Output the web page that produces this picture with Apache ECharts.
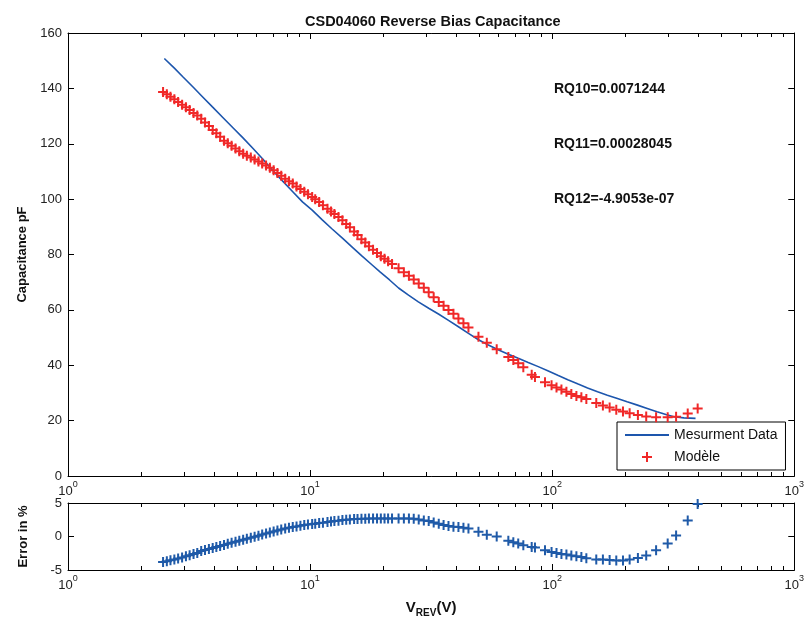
<!DOCTYPE html>
<html>
<head>
<meta charset="utf-8">
<title>CSD04060 Reverse Bias Capacitance</title>
<script src="https://cdn.jsdelivr.net/npm/echarts@6/dist/echarts.min.js"></script>
<style>
  html, body { margin: 0; background: #fff; }
  #main { width: 807px; height: 623px; }
</style>
</head>
<body>
<div id="main"></div>
<script>
// measured curve (blue line)
var vMeas = [2.5, 2.75, 2.98, 3.3, 3.6, 3.95, 4.36, 4.8, 5.27, 5.8, 6.36, 7.0, 7.69, 8.5, 9.3, 10.2, 11.2, 12.3, 13.6, 15.0, 16.4, 18.0, 19.5, 21.3, 23.2, 25.5, 28.0, 30.9, 33.9, 37.3, 41.0, 45.1, 49.6, 54.5, 59.8, 65.9, 72.4, 79.6, 87.6, 96.4, 106, 116, 128, 140, 154, 169, 186, 204, 225, 247, 271, 295, 318, 350, 391];
var cMeas = [150.8, 147.3, 144.2, 140.3, 136.9, 133.3, 129.5, 125.8, 122.2, 118.4, 114.6, 110.4, 106.6, 102.6, 99.0, 96.0, 92.6, 89.3, 85.9, 82.5, 79.4, 76.3, 73.6, 70.8, 67.9, 65.3, 62.9, 60.6, 58.5, 56.2, 53.9, 51.5, 49.2, 47.3, 45.6, 44.0, 42.5, 41.0, 39.5, 37.9, 36.3, 34.8, 33.2, 31.8, 30.4, 29.2, 28.0, 26.8, 25.6, 24.4, 23.2, 22.2, 21.4, 21.0, 20.8];

// model points (red +) and relative error (blue +), same voltages
var vModel = [2.47, 2.56, 2.65, 2.75, 2.85, 2.96, 3.07, 3.18, 3.3, 3.42, 3.55, 3.68, 3.82, 3.96, 4.1, 4.25, 4.41, 4.57, 4.74, 4.92, 5.1, 5.29, 5.48, 5.69, 5.9, 6.12, 6.34, 6.58, 6.82, 7.07, 7.33, 7.6, 7.89, 8.18, 8.48, 8.79, 9.12, 9.46, 9.8, 10.2, 10.5, 10.9, 11.3, 11.8, 12.2, 12.6, 13.1, 13.6, 14.1, 14.6, 15.2, 15.7, 16.3, 16.9, 17.5, 18.2, 18.9, 19.6, 20.3, 21.0, 21.8, 23.2, 24.4, 25.6, 26.8, 28.1, 29.5, 30.9, 32.4, 34.0, 35.6, 37.3, 39.1, 41.0, 43.0, 45.1, 49.6, 53.7, 59.0, 65.9, 69.1, 72.4, 76.0, 82.3, 84.9, 93.4, 99.4, 104.2, 109.2, 114.5, 120.0, 125.9, 132.0, 138.4, 152.1, 162.0, 172.7, 184.0, 196.1, 208.9, 226.0, 244.6, 268.7, 300, 325, 363, 399];
var cModel = [138.7, 137.9, 137.0, 136.1, 135.1, 134.1, 133.2, 132.2, 131.1, 130.2, 129.0, 127.7, 126.4, 125.0, 123.8, 122.5, 121.1, 120.2, 119.3, 118.3, 117.3, 116.4, 115.7, 115.0, 114.3, 113.6, 112.9, 112.1, 111.3, 110.4, 109.4, 108.4, 107.4, 106.5, 105.6, 104.6, 103.7, 102.7, 101.8, 100.8, 100.0, 99.0, 97.8, 96.5, 95.5, 94.6, 93.5, 92.4, 91.0, 89.8, 88.3, 87.0, 85.5, 84.3, 83.0, 81.7, 80.5, 79.4, 78.5, 77.6, 76.6, 75.0, 73.6, 72.3, 71.0, 69.5, 68.0, 66.4, 64.6, 62.8, 61.5, 60.0, 58.6, 56.9, 55.2, 53.6, 50.3, 48.1, 45.8, 43.0, 41.9, 40.7, 39.3, 36.6, 35.8, 33.9, 32.8, 32.0, 31.2, 30.4, 29.6, 28.9, 28.4, 27.8, 26.4, 25.5, 24.7, 23.9, 23.3, 22.7, 22.0, 21.5, 21.2, 21.2, 21.4, 22.6, 24.4];
var errPct = [-3.80, -3.70, -3.55, -3.45, -3.30, -3.15, -2.95, -2.80, -2.60, -2.45, -2.15, -2.00, -1.85, -1.70, -1.55, -1.40, -1.25, -1.10, -0.95, -0.80, -0.65, -0.50, -0.35, -0.20, -0.05, 0.10, 0.30, 0.45, 0.60, 0.75, 0.90, 1.05, 1.20, 1.30, 1.40, 1.50, 1.60, 1.70, 1.80, 1.85, 1.90, 2.00, 2.05, 2.15, 2.25, 2.30, 2.35, 2.45, 2.50, 2.55, 2.60, 2.60, 2.65, 2.65, 2.70, 2.70, 2.70, 2.70, 2.70, 2.70, 2.70, 2.70, 2.70, 2.70, 2.65, 2.55, 2.40, 2.30, 2.10, 1.90, 1.70, 1.55, 1.45, 1.40, 1.30, 1.20, 0.70, 0.25, 0.00, -0.65, -0.85, -1.05, -1.30, -1.55, -1.65, -2.05, -2.30, -2.45, -2.60, -2.70, -2.85, -2.95, -3.05, -3.25, -3.45, -3.45, -3.50, -3.60, -3.60, -3.45, -3.20, -2.85, -2.05, -1.05, 0.15, 2.40, 4.85];

var minorTicks = [2, 3, 4, 5, 6, 7, 8, 9, 20, 30, 40, 50, 60, 70, 80, 90, 200, 300, 400, 500, 600, 700, 800, 900];
var coefLabels = ['RQ10=0.0071244', 'RQ11=0.00028045', 'RQ12=-4.9053e-07'];

var FONT = 'Liberation Sans, Arial, sans-serif';
var plusPath = 'path://M4,0H6V4H10V6H6V10H4V6H0V4H4Z';
var linePath = 'path://M0,0H44V1.8H0Z';

function pairs(xs, ys) {
  return xs.map(function (x, i) { return [x, ys[i]]; });
}

function logLabel(v) {
  var e = Math.round(Math.log10(v));
  return '{b|10}{e|' + e + '}';
}

var logRich = {
  b: { fontSize: 13, lineHeight: 14, verticalAlign: 'bottom', color: '#222', fontFamily: FONT },
  e: { fontSize: 9, lineHeight: 9, padding: [0, 0, 9, 0], verticalAlign: 'bottom', color: '#222', fontFamily: FONT }
};

function xAxisFor(grid, pos, labels) {
  return {
    type: 'log', logBase: 10, gridIndex: grid, position: pos, min: 1, max: 1000,
    axisLine: { onZero: false, lineStyle: { color: '#000', width: 1 } },
    axisTick: { inside: true, length: 6, lineStyle: { color: '#000' } },
    axisLabel: labels ? { show: true, formatter: logLabel, rich: logRich, margin: 8 } : { show: false },
    splitLine: { show: false }
  };
}

function yAxisFor(grid, pos, lo, hi, step, labels, name) {
  return {
    type: 'value', gridIndex: grid, position: pos, min: lo, max: hi, interval: step,
    name: name || '', nameLocation: 'middle', nameGap: 38, nameRotate: 90,
    nameTextStyle: { fontSize: 13, fontWeight: 'bold', color: '#111', fontFamily: FONT },
    axisLine: { show: true, onZero: false, lineStyle: { color: '#000', width: 1 } },
    axisTick: { show: true, inside: true, length: 6, lineStyle: { color: '#000' } },
    axisLabel: labels ? { show: true, fontSize: 13, color: '#222', fontFamily: FONT, margin: 6 } : { show: false },
    splitLine: { show: false }
  };
}

// short minor ticks at 2..9 of each decade, on bottom and top edges of a grid
function minorTickItem(params, api) {
  var cs = params.coordSys;
  var x = Math.round(api.coord([api.value(0), api.value(1)])[0]) + 0.5;
  var b = cs.y + cs.height;
  return {
    type: 'group',
    children: [
      { type: 'line', shape: { x1: x, y1: b, x2: x, y2: b - 4 }, style: { stroke: '#000', lineWidth: 1 } },
      { type: 'line', shape: { x1: x, y1: cs.y, x2: x, y2: cs.y + 4 }, style: { stroke: '#000', lineWidth: 1 } }
    ]
  };
}

var chart = echarts.init(document.getElementById('main'));

var option = {
  backgroundColor: '#fff',
  animation: false,
  title: {
    text: 'CSD04060 Reverse Bias Capacitance',
    left: 300, top: 9,
    textStyle: { fontSize: 14.5, fontWeight: 'bold', color: '#111', fontFamily: FONT }
  },
  grid: [
    { left: 68, top: 33, width: 730, height: 443 },
    { left: 68, top: 503, width: 730, height: 67 }
  ],
  xAxis: [
    xAxisFor(0, 'bottom', true),
    xAxisFor(0, 'top', false),
    Object.assign(xAxisFor(1, 'bottom', true), {
      name: '{v|V}{s|REV}{v|(V)}', nameLocation: 'middle', nameGap: 30,
      nameTextStyle: {
        rich: {
          v: { fontSize: 15, lineHeight: 18, verticalAlign: 'top', fontWeight: 'bold', color: '#111', fontFamily: FONT },
          s: { fontSize: 10, lineHeight: 10, verticalAlign: 'bottom', fontWeight: 'bold', color: '#111', fontFamily: FONT }
        }
      }
    }),
    xAxisFor(1, 'top', false)
  ],
  yAxis: [
    yAxisFor(0, 'left', 0, 160, 20, true, 'Capacitance pF'),
    yAxisFor(0, 'right', 0, 160, 20, false),
    yAxisFor(1, 'left', -5, 5, 5, true, 'Error in %'),
    yAxisFor(1, 'right', -5, 5, 5, false)
  ],
  legend: {
    orient: 'vertical',
    left: 617, top: 422,
    padding: [6, 8, 6, 8],
    itemGap: 8,
    itemWidth: 44, itemHeight: 10,
    borderColor: '#000', borderWidth: 1, borderRadius: 0,
    backgroundColor: '#fff',
    textStyle: { fontSize: 14, color: '#111', fontFamily: FONT },
    data: [
      { name: 'Mesurment Data', icon: linePath },
      { name: 'Modèle', icon: plusPath }
    ]
  },
  graphic: coefLabels.map(function (t, i) {
    return {
      type: 'text', x: 554, y: 89 + i * 55,
      style: { text: t, font: 'bold 14px ' + FONT, fill: '#111', verticalAlign: 'middle' }
    };
  }),
  series: [
    {
      name: 'Mesurment Data', type: 'line', xAxisIndex: 0, yAxisIndex: 0,
      data: pairs(vMeas, cMeas), symbol: 'none', smooth: false,
      lineStyle: { color: '#1d56ad', width: 1.6 }, itemStyle: { color: '#1d56ad' }, z: 3
    },
    {
      name: 'Modèle', type: 'scatter', xAxisIndex: 0, yAxisIndex: 0,
      data: pairs(vModel, cModel), symbol: plusPath, symbolSize: 10,
      itemStyle: { color: '#f02828', opacity: 1 }, z: 4
    },
    {
      name: 'Error', type: 'scatter', xAxisIndex: 2, yAxisIndex: 2,
      data: pairs(vModel, errPct), symbol: plusPath, symbolSize: 10,
      itemStyle: { color: '#1f5aa8', opacity: 1 }, z: 4
    },
    {
      type: 'custom', xAxisIndex: 0, yAxisIndex: 0, silent: true,
      renderItem: minorTickItem, data: minorTicks.map(function (v) { return [v, 0]; }), z: 2
    },
    {
      type: 'custom', xAxisIndex: 2, yAxisIndex: 2, silent: true,
      renderItem: minorTickItem, data: minorTicks.map(function (v) { return [v, 0]; }), z: 2
    }
  ]
};

chart.setOption(option);
</script>
</body>
</html>
